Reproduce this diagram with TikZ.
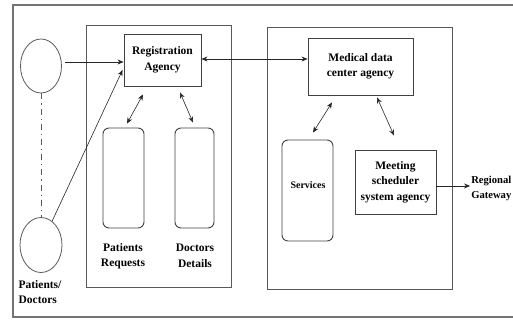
\documentclass[tikz,border=0pt]{standalone}
\usepackage{fontspec}
\setmainfont{Liberation Serif}
\usetikzlibrary{arrows.meta,shapes.geometric}

\tikzset{
  txt/.style={font=\bfseries\fontsize{11.5}{15.5}\selectfont, align=center, inner sep=0pt},
  agent/.style={draw=black!75, line width=0.9pt, inner sep=0pt, txt},
  store/.style={draw=black!75, line width=0.9pt, rounded corners=6pt, inner sep=0pt},
  group/.style={draw=black!65, line width=0.9pt},
  frame/.style={draw=black!55, line width=1.6pt},
  actor/.style={ellipse, draw=black!65, line width=0.8pt, inner sep=0pt},
  link/.style={-{Stealth[length=6pt,width=5pt]}, line width=0.6pt, black!85},
  both/.style={{Stealth[length=6pt,width=5pt]}-{Stealth[length=6pt,width=5pt]}, line width=0.6pt, black!85},
}

\begin{document}
\begin{tikzpicture}[x=1pt,y=-1pt]
\useasboundingbox (0,0) rectangle (513,320);
\clip (0,0) rectangle (513,320);

% outer frame and the two subsystem groups
\draw[frame] (13,5) rectangle (540,317);
\draw[group] (86,25) rectangle (231,287);
\draw[group] (267,27) rectangle (452,289);

% users
\node[actor, minimum width=41pt, minimum height=54pt] (pc1) at (41,66) {};
\node[actor, minimum width=42pt, minimum height=55pt] (pc2) at (41,245) {};
\draw[black!65, line width=0.8pt, dash pattern=on 6pt off 4pt on 1.2pt off 4pt] (pc1.south) -- (pc2.north);
\node[txt, align=left] (pdlbl) at (40,292) {Patients/\\Doctors};

% registration side
\node[agent, minimum width=77pt, minimum height=52pt] (reg) at (162.5,60) {Registration\\Agency};
\node[store, minimum width=41pt, minimum height=100pt] (preq) at (123.5,178) {};
\node[store, minimum width=39pt, minimum height=100pt] (ddet) at (194.5,178) {};
\node[txt] (preqlbl) at (123,256) {Patients\\Requests};
\node[txt] (ddetlbl) at (195,256) {Doctors\\Details};

% medical data side
\node[agent, minimum width=105pt, minimum height=57pt] (med) at (360.5,66.5) {Medical data\\center agency};
\node[store, minimum width=51pt, minimum height=101pt] (serv) at (307.5,190.5) {};
\node[txt, font=\bfseries\fontsize{10}{12}\selectfont] (servlbl) at (308,185) {Services};
\node[agent, minimum width=81pt, minimum height=64pt] (meet) at (395.5,182) {Meeting\\scheduler\\system agency};
\node[txt, font=\bfseries\fontsize{10.6}{15}\selectfont, anchor=east] (gw) at (511.5,188) {Regional\\Gateway};

% connectors
\coordinate (a1) at ([shift={(3,-4)}]pc1.east);
\draw[link] (a1) -- (a1 -| reg.west);
\draw[link] (pc2.65) -- ([shift={(-1,10)}]reg.west);
\coordinate (b1) at ([shift={(0,-1)}]reg.east);
\draw[both] (b1) -- (b1 -| med.west);
\draw[both] ([shift={(-19.5,8)}]reg.south) -- ([shift={(3.5,-4)}]preq.north);
\draw[both] ([shift={(17.5,6)}]reg.south) -- ([shift={(-1.5,-5)}]ddet.north);
\draw[both] ([shift={(-28.5,7)}]med.south) -- ([shift={(5.5,-7)}]serv.north);
\draw[both] ([shift={(16.5,2)}]med.south) -- ([shift={(-1.5,-14)}]meet.north);
\coordinate (c1) at ([shift={(0,4)}]meet.east);
\draw[link] (c1) -- ([xshift=-1pt]c1 -| gw.west);
\end{tikzpicture}
\end{document}
